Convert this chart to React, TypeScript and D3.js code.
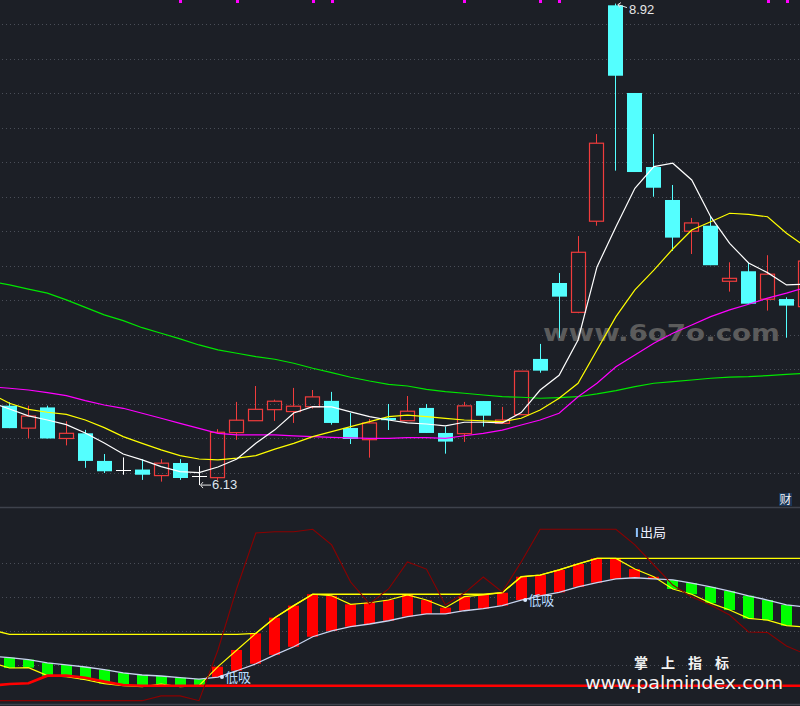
import React from 'react';
import * as d3 from 'd3';

// ---- main panel: candles (index 0..42) ----
const opens = [6.59, 6.46, 6.58, 6.40, 6.43, 6.27, 6.22, 6.22, 6.185, 6.258, 6.18, 6.173, 6.434, 6.503, 6.567, 6.556, 6.584, 6.618, 6.461, 6.393, 6.519, 6.503, 6.577, 6.432, 6.428, 6.617, 6.488, 6.538, 6.861, 7.301, 7.131, 7.659, 8.91, 8.402, 7.973, 7.782, 7.601, 7.633, 7.311, 7.369, 7.207, 7.208, 7.164];
const highs = [6.61, 6.59, 6.59, 6.50, 6.45, 6.31, 6.29, 6.28, 6.28, 6.28, 6.24, 6.454, 6.612, 6.704, 6.625, 6.693, 6.681, 6.670, 6.548, 6.513, 6.600, 6.646, 6.600, 6.469, 6.612, 6.617, 6.583, 6.790, 6.948, 7.359, 7.573, 8.164, 8.92, 8.402, 8.164, 7.869, 7.678, 7.689, 7.421, 7.419, 7.462, 7.218, 7.45];
const lows = [6.46, 6.40, 6.40, 6.36, 6.23, 6.20, 6.19, 6.16, 6.15, 6.16, 6.13, 6.16, 6.392, 6.503, 6.502, 6.490, 6.573, 6.480, 6.368, 6.289, 6.449, 6.503, 6.432, 6.312, 6.380, 6.469, 6.488, 6.538, 6.781, 6.983, 7.126, 7.633, 7.952, 7.944, 7.801, 7.487, 7.469, 7.404, 7.251, 7.181, 7.141, 6.984, 7.16];
const closes = [6.46, 6.53, 6.40, 6.43, 6.27, 6.21, 6.22, 6.19, 6.257, 6.171, 6.18, 6.436, 6.506, 6.569, 6.616, 6.587, 6.641, 6.490, 6.397, 6.490, 6.506, 6.558, 6.432, 6.382, 6.589, 6.532, 6.507, 6.790, 6.793, 7.222, 7.479, 8.111, 8.502, 7.944, 7.853, 7.564, 7.649, 7.404, 7.328, 7.181, 7.352, 7.170, 7.428];

// moving averages, index -1..42 (first value is the off-screen bar)
const maWhite = [6.61, 6.571, 6.531, 6.507, 6.480, 6.432, 6.374, 6.310, 6.276, 6.237, 6.208, 6.202, 6.235, 6.281, 6.372, 6.450, 6.548, 6.585, 6.583, 6.554, 6.527, 6.507, 6.490, 6.484, 6.473, 6.494, 6.494, 6.490, 6.550, 6.681, 6.766, 6.971, 7.394, 7.627, 7.850, 7.975, 7.995, 7.898, 7.685, 7.531, 7.417, 7.361, 7.290, 7.295];
const maYellow = [6.66, 6.604, 6.569, 6.552, 6.540, 6.507, 6.463, 6.411, 6.372, 6.334, 6.301, 6.281, 6.276, 6.286, 6.301, 6.338, 6.372, 6.411, 6.440, 6.469, 6.498, 6.527, 6.535, 6.527, 6.517, 6.507, 6.502, 6.498, 6.517, 6.565, 6.633, 6.720, 6.913, 7.106, 7.261, 7.376, 7.498, 7.608, 7.656, 7.705, 7.699, 7.685, 7.589, 7.512];
const maMagenta = [6.70, 6.691, 6.681, 6.666, 6.648, 6.619, 6.594, 6.575, 6.546, 6.517, 6.488, 6.459, 6.430, 6.421, 6.421, 6.421, 6.415, 6.411, 6.407, 6.403, 6.401, 6.401, 6.405, 6.405, 6.401, 6.416, 6.430, 6.448, 6.478, 6.507, 6.546, 6.642, 6.720, 6.816, 6.884, 6.952, 7.010, 7.058, 7.106, 7.145, 7.178, 7.213, 7.242, 7.274];
const maGreen = [7.31, 7.290, 7.265, 7.242, 7.203, 7.160, 7.116, 7.083, 7.042, 7.010, 6.977, 6.942, 6.913, 6.894, 6.874, 6.859, 6.836, 6.807, 6.782, 6.755, 6.733, 6.714, 6.704, 6.685, 6.671, 6.662, 6.652, 6.642, 6.639, 6.633, 6.637, 6.642, 6.658, 6.677, 6.700, 6.720, 6.729, 6.739, 6.749, 6.755, 6.758, 6.764, 6.772, 6.778];

const priceTicks = [6.2, 6.4, 6.6, 6.8, 7.0, 7.2, 7.4, 7.6, 7.8, 8.0, 8.2, 8.4, 8.6, 8.8];
const topMarkers = [9, 12, 16, 17, 24, 28, 29, 40, 41];
const highLabel = { idx: 32, value: 8.92, text: '8.92' };
const lowLabel = { idx: 10, value: 6.13, text: '6.13' };

// ---- lower panel, index -1..42 ----
const lineA = [21.9, 18.4, 18.6, 13.9, 13.3, 11.5, 9.2, 8.0, 7.4, 9.0, 7.4, 8.0, 19.2, 29.0, 38.8, 48.0, 55.1, 61.8, 60.9, 55.9, 56.8, 58.4, 61.4, 58.4, 53.9, 60.4, 61.4, 62.7, 72.1, 73.1, 76.1, 79.6, 82.9, 82.9, 76.6, 72.1, 64.9, 61.8, 56.6, 52.5, 47.6, 46.6, 43.3, 42.5];
const lineB = [25.5, 24.5, 23.3, 21.4, 20.2, 19.0, 17.4, 15.5, 14.3, 13.7, 12.7, 11.9, 13.1, 16.8, 20.9, 26.1, 30.9, 36.8, 40.2, 42.7, 44.3, 46.2, 48.6, 50.2, 50.2, 52.1, 53.3, 55.1, 58.4, 60.9, 62.9, 66.1, 68.6, 70.8, 71.5, 70.8, 70.2, 68.4, 66.1, 63.7, 60.9, 58.4, 55.5, 54.3];
const stepLine = [41, 38.2, 38.2, 38.2, 38.2, 38.2, 38.2, 38.2, 38.2, 38.2, 38.2, 38.2, 38.2, 38.2, 38.8, 48.0, 55.1, 61.8, 61.8, 61.8, 61.8, 61.8, 61.8, 61.8, 61.8, 61.8, 61.8, 62.7, 72.1, 73.1, 76.1, 79.6, 82.9, 82.9, 82.9, 82.9, 82.9, 82.9, 82.9, 82.9, 82.9, 82.9, 82.9, 82.9];
const redFloor = [8.0, 9.0, 9.4, 13.9, 13.9, 12.7, 10.4, 8.4, 8.0, 8.0, 8.0, 8.0, 8.0, 8.0, 8.0, 8.0, 8.0, 8.0, 8.0, 8.0, 8.0, 8.0, 8.0, 8.0, 8.0, 8.0, 8.0, 8.0, 8.0, 8.0, 8.0, 8.0, 8.0, 8.0, 8.0, 8.0, 8.0, 8.0, 8.0, 8.0, 8.0, 8.0, 8.0, 8.0];
const oscLine = [-0.8, -0.8, -0.8, -0.8, -0.8, -0.8, -0.8, -0.8, -0.8, 2.0, 2.0, -0.8, 29.0, 65.5, 97.8, 98.6, 98.6, 100, 90.8, 69.0, 56.1, 64.9, 80.8, 76.6, 55.5, 62.5, 71.9, 63.1, 80.8, 100, 100, 100, 100, 100, 90.8, 79.0, 67.2, 60.2, 55.5, 49.6, 39.6, 39.3, 31.4, 26.6];
const lowerTicks = [20, 40, 60, 80];
const buySignals = [{ idx: 11, text: '低吸' }, { idx: 27, text: '低吸' }];
const sellSignals = [{ idx: 33, text: '出局' }];
const brandChars = ['掌', '上', '指', '标'];

const W = 800;
const H = 706;
const BG = '#1c1f26';

export default function App() {
  const x = d3.scaleLinear().domain([0, 41]).range([9.5, 786.5]);
  const yP = d3.scaleLinear().domain([6.2, 8.8]).range([473, 24.3]);
  const yL = d3.scaleLinear().domain([0, 80]).range([699.3, 563.3]);

  const mainLine = d3.line<number>().x((_, k) => x(k - 1)).y((v) => yP(v));
  const lowLine = d3.line<number>().x((_, k) => x(k - 1)).y((v) => yL(v));

  const sans = '"Liberation Sans", Arial, sans-serif';
  const cjk = '"Noto Sans CJK SC", sans-serif';

  return (
    <svg width={W} height={H} style={{ position: 'fixed', left: 0, top: 0, display: 'block' }}>
      <rect x={0} y={0} width={W} height={H} fill={BG} />
      {/* grids */}
      {priceTicks.map((p) => (
        <line key={'g' + p} x1={2} x2={W} y1={Math.round(yP(p)) + 0.5} y2={Math.round(yP(p)) + 0.5}
          stroke="#4a4e58" strokeWidth={1} strokeDasharray="1 3" />
      ))}
      {lowerTicks.map((v) => (
        <line key={'lg' + v} x1={2} x2={W} y1={Math.round(yL(v)) + 0.5} y2={Math.round(yL(v)) + 0.5}
          stroke="#4a4e58" strokeWidth={1} strokeDasharray="1 3" />
      ))}
      <line x1={0} x2={W} y1={507.5} y2={507.5} stroke="#3e424c" strokeWidth={1.5} />
      <line x1={0} x2={W} y1={704.5} y2={704.5} stroke="#3e424c" strokeWidth={1.5} />

      {/* watermark */}
      <text x={543} y={340.5} fill="#5c5c5c" fontFamily='"DejaVu Sans", sans-serif' fontWeight="bold"
        fontSize={23} textLength={237} lengthAdjust="spacingAndGlyphs">www.6o7o.com</text>

      {/* top markers */}
      {topMarkers.map((i) => (
        <rect key={'m' + i} x={Math.round(x(i)) - 1} y={0} width={3} height={3} fill="#ff00ff" />
      ))}

      {/* candles */}
      {opens.map((o, i) => {
        const c = closes[i];
        const cx = Math.floor(x(i)) + 0.5;
        const hi = yP(highs[i]);
        const lo = yP(lows[i]);
        if (c > o) {
          const top = yP(c);
          const bot = yP(o);
          const col = '#f03c3c';
          return (
            <g key={'c' + i}>
              <line x1={cx} x2={cx} y1={hi} y2={top} stroke={col} />
              <line x1={cx} x2={cx} y1={bot} y2={lo} stroke={col} />
              <rect x={Math.floor(x(i) - 7) + 0.5} y={top} width={14} height={Math.max(1, bot - top)}
                fill="none" stroke={col} strokeWidth={1.2} />
            </g>
          );
        } else if (c < o) {
          const top = yP(o);
          const bot = yP(c);
          const col = '#54ffff';
          return (
            <g key={'c' + i}>
              <line x1={cx} x2={cx} y1={hi} y2={lo} stroke={col} />
              <rect x={Math.floor(x(i) - 7)} y={top} width={15} height={Math.max(1, bot - top)} fill={col} />
            </g>
          );
        }
        const yy = Math.round(yP(o)) + 0.5;
        return (
          <g key={'c' + i}>
            <line x1={cx} x2={cx} y1={hi} y2={lo} stroke="#ffffff" />
            <line x1={Math.floor(x(i) - 7)} x2={Math.floor(x(i) - 7) + 15} y1={yy} y2={yy} stroke="#ffffff" />
          </g>
        );
      })}

      {/* moving averages */}
      <path d={mainLine(maGreen) || ''} fill="none" stroke="#00e600" strokeWidth={1.2} />
      <path d={mainLine(maMagenta) || ''} fill="none" stroke="#ff00ff" strokeWidth={1.2} />
      <path d={mainLine(maYellow) || ''} fill="none" stroke="#ffff00" strokeWidth={1.2} />
      <path d={mainLine(maWhite) || ''} fill="none" stroke="#ffffff" strokeWidth={1.2} />

      {/* high / low labels */}
      <g stroke="#e6e6e6" strokeWidth={1} fill="none">
        <line x1={x(highLabel.idx) + 2} y1={yP(highLabel.value) + 1} x2={x(highLabel.idx) + 11} y2={yP(highLabel.value) + 4} />
        <polyline points={`${x(highLabel.idx) + 5},${yP(highLabel.value) - 1} ${x(highLabel.idx) + 2},${yP(highLabel.value) + 1} ${x(highLabel.idx) + 4},${yP(highLabel.value) + 4}`} />
        <line x1={x(lowLabel.idx) + 2} y1={yP(lowLabel.value)} x2={x(lowLabel.idx) + 12} y2={yP(lowLabel.value)} />
        <polyline points={`${x(lowLabel.idx) + 4},${yP(lowLabel.value) - 3} ${x(lowLabel.idx) + 1.5},${yP(lowLabel.value)} ${x(lowLabel.idx) + 4},${yP(lowLabel.value) + 3}`} />
      </g>
      <text x={x(highLabel.idx) + 13} y={yP(highLabel.value) + 10} fill="#e6e6e6" fontFamily={sans} fontSize={13}>{highLabel.text}</text>
      <text x={x(lowLabel.idx) + 13} y={yP(lowLabel.value) + 4} fill="#dfe6ef" fontFamily={sans} fontSize={13}>{lowLabel.text}</text>

      {/* 财 badge */}
      <rect x={779} y={493} width={13} height={13} fill="#1a3658" />
      <text x={785.5} y={504} textAnchor="middle" fill="#f0f0f0" fontFamily={cjk} fontSize={12}>财</text>

      {/* lower panel bars */}
      {lineA.slice(1).map((a, i) => {
        const b = lineB[i + 1];
        const y1 = yL(Math.max(a, b));
        const y2 = yL(Math.min(a, b));
        return (
          <rect key={'b' + i} x={Math.round(x(i) - 5.5)} y={y1} width={11} height={Math.max(1.5, y2 - y1)}
            fill={a > b ? '#ff0000' : '#00ff00'} />
        );
      })}
      <path d={lowLine(stepLine) || ''} fill="none" stroke="#ffff00" strokeWidth={1.3} />
      <path d={lowLine(lineA) || ''} fill="none" stroke="#ffff00" strokeWidth={1.2} />
      <path d={lowLine(lineB) || ''} fill="none" stroke="#c8d4f0" strokeWidth={1.3} />
      <path d={lowLine(redFloor) || ''} fill="none" stroke="#ff0000" strokeWidth={2.6} />
      <path d={lowLine(oscLine) || ''} fill="none" stroke="#8b0000" strokeWidth={1.1} />

      {/* signals */}
      {buySignals.map((s) => (
        <g key={'s' + s.idx}>
          <circle cx={x(s.idx) + 4} cy={yL(lineB[s.idx + 1]) + 0} r={2} fill="#d6e8ff" />
          <text x={x(s.idx) + 7} y={yL(lineB[s.idx + 1]) + 5} fill="#b9dcff" fontFamily={cjk} fontSize={13}>{s.text}</text>
        </g>
      ))}
      {sellSignals.map((s) => (
        <g key={'e' + s.idx}>
          <rect x={x(s.idx) + 1} y={528} width={2} height={9} fill="#8ec4ff" />
          <text x={x(s.idx) + 5} y={537} fill="#eef0ff" fontFamily={cjk} fontSize={13}>{s.text}</text>
        </g>
      ))}

      {/* brand watermark */}
      {brandChars.map((ch, k) => (
        <text key={'br' + k} x={641 + k * 27} y={668} textAnchor="middle" fill="#f2f2f2" fontFamily={cjk}
          fontWeight="bold" fontSize={14}>{ch}</text>
      ))}
      <text x={585} y={688.5} fill="#f4f4f4" fontFamily='"DejaVu Sans", sans-serif' fontSize={17.5}
        textLength={198} lengthAdjust="spacingAndGlyphs" stroke={BG} strokeWidth={0.6} paintOrder="stroke">www.palmindex.com</text>
    </svg>
  );
}
